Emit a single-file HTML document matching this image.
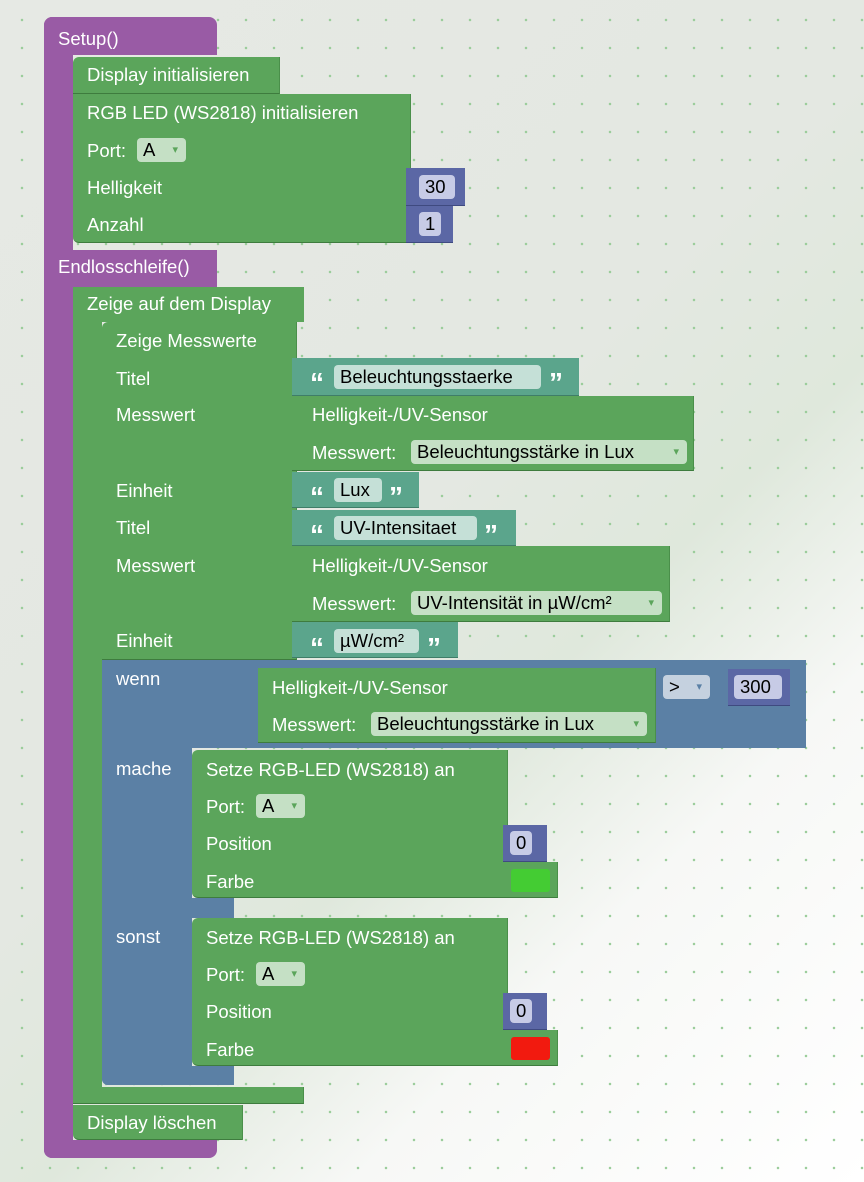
<!DOCTYPE html>
<html><head><meta charset="utf-8"><style>
body{margin:0;width:864px;height:1182px;overflow:hidden;position:relative;font-family:"Liberation Sans",sans-serif;
background:radial-gradient(circle,#9c9 1px,transparent 1.5px) 8px 6px/28px 28px, linear-gradient(135deg,#e6e9e4 0%,#e4e8e2 45%,#dfe8dc 60%,#f7f8f6 75%,#fff 100%);}
.b{position:absolute;box-sizing:border-box}
.p{background:#995ba5}
.g{background:#5ba55b;border-bottom:1px solid #3e7c3e;border-right:1px solid #4a8f4a}
.t{background:#5ba58c;border-bottom:1px solid #3f7d68}
.m{background:#5b67a5;border-bottom:1px solid #3f4a80}
.l{background:#5b80a5}
.tx{position:absolute;color:#fff;font-size:18.5px;line-height:20px;white-space:nowrap}
.f{position:absolute;background:rgba(255,255,255,.65);border-radius:4px;color:#000;font-size:18.5px;line-height:24px;height:24px;padding:0 6px;box-sizing:border-box;white-space:nowrap}
.fn{background:#c7cbe6}
.fd:after{content:"\25BE";position:absolute;right:8px;top:0;font-size:11px;color:#5ba55b}
.q{position:absolute;color:#fff;font-size:28px;font-family:"Liberation Sans",sans-serif;font-weight:bold;line-height:20px}
</style></head><body>
<div class="b p" style="left:44px;top:17px;width:173px;height:38px;border-radius:8px 8px 0 0"></div>
<div class="b p" style="left:44px;top:17px;width:29px;height:1141px;border-radius:8px 0 0 8px"></div>
<div class="b p" style="left:44px;top:250px;width:173px;height:37px"></div>
<div class="b p" style="left:44px;top:1140px;width:173px;height:18px;border-radius:0 0 8px 8px"></div>
<div class="tx" style="left:58px;top:29px">Setup()</div>
<div class="tx" style="left:58px;top:257px">Endlosschleife()</div>
<div class="b g" style="left:73px;top:57px;width:207px;height:37px;border-radius:6px 0 0 0"></div>
<div class="tx" style="left:87px;top:65px">Display initialisieren</div>
<div class="b g" style="left:73px;top:94px;width:338px;height:149px;border-radius:0 0 0 6px"></div>
<div class="tx" style="left:87px;top:103px">RGB LED (WS2818) initialisieren</div>
<div class="tx" style="left:87px;top:141px">Port:</div>
<div class="f fd" style="left:137px;top:138px;width:49px">A</div>
<div class="tx" style="left:87px;top:178px">Helligkeit</div>
<div class="tx" style="left:87px;top:215px">Anzahl</div>
<div class="b m" style="left:406px;top:168px;width:59px;height:38px"></div>
<div class="f fn" style="left:419px;top:175px;width:36px">30</div>
<div class="b m" style="left:406px;top:206px;width:47px;height:37px"></div>
<div class="f fn" style="left:419px;top:212px">1</div>
<div class="b g" style="left:73px;top:287px;width:231px;height:35px;border-radius:6px 0 0 0;border:none"></div>
<div class="b g" style="left:73px;top:287px;width:29px;height:817px;border:none"></div>
<div class="b g" style="left:73px;top:1087px;width:231px;height:17px"></div>
<div class="tx" style="left:87px;top:294px">Zeige auf dem Display</div>
<div class="b g" style="left:73px;top:1105px;width:170px;height:35px;border-radius:0 0 0 6px"></div>
<div class="tx" style="left:87px;top:1113px">Display löschen</div>
<div class="b g" style="left:102px;top:322px;width:195px;height:338px;border-radius:6px 0 0 0"></div>
<div class="tx" style="left:116px;top:331px">Zeige Messwerte</div>
<div class="tx" style="left:116px;top:369px">Titel</div>
<div class="tx" style="left:116px;top:405px">Messwert</div>
<div class="tx" style="left:116px;top:481px">Einheit</div>
<div class="tx" style="left:116px;top:518px">Titel</div>
<div class="tx" style="left:116px;top:556px">Messwert</div>
<div class="tx" style="left:116px;top:631px">Einheit</div>
<div class="b t" style="left:292px;top:358px;width:287px;height:38px"></div>
<div class="q" style="left:310px;top:373px">“</div><div class="f" style="left:334px;top:365px;width:207px">Beleuchtungsstaerke</div><div class="q" style="left:549px;top:373px">”</div>
<div class="b g" style="left:292px;top:396px;width:402px;height:75px"></div>
<div class="tx" style="left:312px;top:405px">Helligkeit-/UV-Sensor</div>
<div class="tx" style="left:312px;top:443px">Messwert:</div>
<div class="f fd" style="left:411px;top:440px;width:276px">Beleuchtungsstärke in Lux</div>
<div class="b t" style="left:292px;top:472px;width:127px;height:36px"></div>
<div class="q" style="left:310px;top:487px">“</div><div class="f" style="left:334px;top:478px;width:48px">Lux</div><div class="q" style="left:389px;top:487px">”</div>
<div class="b t" style="left:292px;top:510px;width:224px;height:36px"></div>
<div class="q" style="left:310px;top:525px">“</div><div class="f" style="left:334px;top:516px;width:143px">UV-Intensitaet</div><div class="q" style="left:484px;top:525px">”</div>
<div class="b g" style="left:292px;top:546px;width:378px;height:76px"></div>
<div class="tx" style="left:312px;top:556px">Helligkeit-/UV-Sensor</div>
<div class="tx" style="left:312px;top:594px">Messwert:</div>
<div class="f fd" style="left:411px;top:591px;width:251px">UV-Intensität in µW/cm²</div>
<div class="b t" style="left:292px;top:622px;width:166px;height:36px"></div>
<div class="q" style="left:310px;top:638px">“</div><div class="f" style="left:334px;top:629px;width:85px">µW/cm²</div><div class="q" style="left:427px;top:638px">”</div>
<div class="b l" style="left:102px;top:660px;width:704px;height:88px"></div>
<div class="b l" style="left:102px;top:660px;width:90px;height:425px;border-radius:0 0 0 6px"></div>
<div class="b l" style="left:102px;top:898px;width:132px;height:20px"></div>
<div class="b l" style="left:102px;top:1066px;width:132px;height:19px;border-radius:0 0 0 6px"></div>
<div class="tx" style="left:116px;top:669px">wenn</div>
<div class="tx" style="left:116px;top:759px">mache</div>
<div class="tx" style="left:116px;top:927px">sonst</div>
<div class="b g" style="left:258px;top:668px;width:398px;height:75px"></div>
<div class="tx" style="left:272px;top:678px">Helligkeit-/UV-Sensor</div>
<div class="tx" style="left:272px;top:715px">Messwert:</div>
<div class="f fd" style="left:371px;top:712px;width:276px">Beleuchtungsstärke in Lux</div>
<div class="f" style="left:663px;top:675px;background:#c5d1df;width:47px">&gt;<span style="position:absolute;right:8px;font-size:11px;color:#5b80a5">▾</span></div>
<div class="b m" style="left:728px;top:669px;width:62px;height:37px"></div>
<div class="f fn" style="left:734px;top:675px;width:48px">300</div>
<div class="b g" style="left:192px;top:750px;width:316px;height:148px;border-radius:6px 0 0 6px"></div>
<div class="tx" style="left:206px;top:760px">Setze RGB-LED (WS2818) an</div>
<div class="tx" style="left:206px;top:797px">Port:</div>
<div class="f fd" style="left:256px;top:794px;width:49px">A</div>
<div class="tx" style="left:206px;top:834px">Position</div>
<div class="tx" style="left:206px;top:872px">Farbe</div>
<div class="b m" style="left:503px;top:825px;width:44px;height:37px"></div>
<div class="f fn" style="left:510px;top:831px">0</div>
<div class="b g" style="left:503px;top:862px;width:55px;height:36px"></div>
<div class="b" style="left:511px;top:869px;width:39px;height:23px;background:#4c3;border-radius:3px"></div>
<div class="b g" style="left:192px;top:918px;width:316px;height:148px;border-radius:6px 0 0 6px"></div>
<div class="tx" style="left:206px;top:928px">Setze RGB-LED (WS2818) an</div>
<div class="tx" style="left:206px;top:965px">Port:</div>
<div class="f fd" style="left:256px;top:962px;width:49px">A</div>
<div class="tx" style="left:206px;top:1002px">Position</div>
<div class="tx" style="left:206px;top:1040px">Farbe</div>
<div class="b m" style="left:503px;top:993px;width:44px;height:37px"></div>
<div class="f fn" style="left:510px;top:999px">0</div>
<div class="b g" style="left:503px;top:1030px;width:55px;height:36px"></div>
<div class="b" style="left:511px;top:1037px;width:39px;height:23px;background:#f21a0f;border-radius:3px"></div>
</body></html>
